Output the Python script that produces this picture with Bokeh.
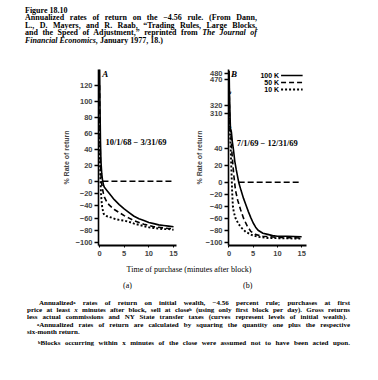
import numpy as np
from bokeh.plotting import figure
from bokeh.models import FixedTicker, Div, Label, Range1d
from bokeh.layouts import column, row
from bokeh.embed import file_html
from bokeh.resources import INLINE

# ---------------- data ----------------
minute_ticks = [0, 5, 10, 15]
wealth_levels = ["100 K", "50 K", "10 K"]

# (a) 10/1/68 - 3/31/69
a_minutes_100k = [0.02, 0.1, 0.2, 0.3, 0.45, 0.6, 0.8, 1.0, 1.5, 2, 3, 4, 5, 6, 7, 8, 9, 10, 11, 12, 13, 14, 15]
a_return_100k = [150, 95, 50, 25, 10, 2, -6, -10, -15, -20, -30, -38, -45, -51, -57, -61, -64, -67, -69, -71, -72, -73, -74]
a_minutes_50k = [0.02, 0.1, 0.2, 0.3, 0.4, 0.6, 0.8, 1.0, 1.5, 2, 3, 4, 5, 6, 7, 8, 9, 10, 11, 12, 13, 14, 15]
a_return_50k = [120, 60, 25, 8, -2, -12, -20, -26, -34, -39, -46, -51, -56, -60, -64, -67, -70, -72, -74, -75, -76, -77, -77]
a_minutes_10k = [0.02, 0.1, 0.2, 0.3, 0.5, 0.8, 1.0, 1.5, 2, 3, 4, 5, 6, 7, 8, 9, 10, 11, 12, 13, 14, 15]
a_return_10k = [80, 25, 0, -20, -40, -52, -55, -57, -58, -61, -63, -64, -66, -69, -71, -73, -75, -76, -77, -78, -78, -79]

# (b) 7/1/69 - 12/31/69
b_minutes_100k = [0.03, 0.1, 0.2, 0.3, 0.5, 0.7, 0.9, 1.2, 1.5, 2, 2.5, 3, 3.5, 4, 4.5, 5, 5.5, 6, 7, 8, 9, 10, 12, 15]
b_return_100k = [485, 400, 310, 200, 60, 48, 40, 25, 15, 0, -14, -27, -38, -49, -59, -68, -75, -80, -85, -87, -89, -90, -90, -91]
b_minutes_50k = [0.03, 0.1, 0.2, 0.35, 0.55, 0.75, 1.0, 1.35, 1.8, 2.4, 3, 3.7, 4.5, 5.4, 7, 10, 15]
b_return_50k = [470, 320, 150, 62, 40, 25, 8, -14, -30, -46, -60, -72, -82, -87, -90, -92, -93]
b_minutes_10k = [0.03, 0.1, 0.2, 0.35, 0.5, 0.65, 0.8, 1.0, 1.35, 2, 2.7, 3.5, 4.7, 6, 8, 15]
b_return_10k = [330, 150, 62, 40, 15, -15, -40, -50, -60, -70, -77, -83, -88, -91, -93, -94]

a_zero_minutes = [0.6, 15]
b_zero_minutes = [2.0, 15]
zero_return = [0, 0]

a_yticks = [120, 100, 80, 60, 40, 20, 0, -20, -40, -60, -80, -100]
b_yticks = [480, 470, 320, 310, 40, 20, 0, -20, -40, -60, -80, -100]

# ---------------- axis scales (uneven / broken axes as printed) ----------------
A_SCALE = ([-120, 0, 160], [-73.8, 0, 128])
B_SCALE = ([-120, 0, 64, 291, 335, 447, 520], [-72, 0, 53.5, 53.9, 88.5, 88.9, 132.2])


def to_axis(vals, scale):
    return [round(float(v), 3) for v in np.interp(vals, scale[0], scale[1])]


def fmt(v):
    return ("\u2212" + str(-v)) if v < 0 else str(v)


STYLES = [("solid", 1.6), ("5 3", 1.6), ("2 2", 1.9)]
TICK_FONT = "Liberation Sans"
SERIF = "Liberation Serif"


def make_panel(width, left, right, xr, yr, scale, yticks, series, zero_x,
               period, period_x, tag, tag_x, tag_y, label_standoff):
    p = figure(width=width, height=218, x_range=Range1d(*xr), y_range=Range1d(*yr),
               output_backend="svg", toolbar_location=None,
               min_border_left=left, min_border_right=right,
               min_border_top=25, min_border_bottom=17)
    p.grid.visible = False
    p.outline_line_color = None
    p.background_fill_color = "white"
    p.border_fill_color = "white"

    pos = to_axis(yticks, scale)
    p.yaxis.ticker = FixedTicker(ticks=pos, minor_ticks=[])
    p.yaxis.major_label_overrides = {ps: fmt(v) for ps, v in zip(pos, yticks)}
    p.yaxis.major_tick_out = 4
    p.yaxis.major_tick_in = 0
    p.yaxis.major_tick_line_width = 1.4
    p.yaxis.axis_line_width = 1.6
    p.yaxis.major_label_standoff = 2
    p.yaxis.major_label_text_font = TICK_FONT
    p.yaxis.major_label_text_font_style = "bold"
    p.yaxis.major_label_text_font_size = "7.5px"
    p.yaxis.axis_label = "% Rate of return"
    p.yaxis.axis_label_text_font = TICK_FONT
    p.yaxis.axis_label_text_font_style = "bold"
    p.yaxis.axis_label_text_font_size = "7px"
    p.yaxis.axis_label_standoff = label_standoff

    p.xaxis.ticker = FixedTicker(ticks=minute_ticks, minor_ticks=[])
    p.xaxis.major_tick_out = 2
    p.xaxis.major_tick_in = 0
    p.xaxis.axis_line_width = 2
    p.xaxis.major_label_standoff = 3
    p.xaxis.major_label_text_font = TICK_FONT
    p.xaxis.major_label_text_font_style = "bold"
    p.xaxis.major_label_text_font_size = "7.5px"

    for (xs, ys), (dash, lw) in zip(series, STYLES):
        p.line(xs, to_axis(ys, scale), line_color="black", line_width=lw, line_dash=dash)

    p.line(zero_x, to_axis(zero_return, scale), line_color="black", line_width=1.5, line_dash="6 3")

    p.add_layout(Label(x=period_x, y=39.7, text=period, text_font=SERIF, text_font_style="bold",
                       text_font_size="8.5px", text_baseline="middle", text_color="black"))
    p.add_layout(Label(x=tag_x, y=tag_y, text=tag, text_font=SERIF, text_font_style="bold italic",
                       text_font_size="9px", text_baseline="middle", text_color="black"))
    return p


pa = make_panel(184, 90, 16, (-0.2, 15.6), (-64.3, 111.7), A_SCALE, a_yticks,
                [(a_minutes_100k, a_return_100k), (a_minutes_50k, a_return_50k),
                 (a_minutes_10k, a_return_10k)],
                a_zero_minutes, "10/1/68 \u2212 3/31/69", 1.2, "A", 0.55, 107.7, 3)

pb = make_panel(178, 35, 64, (-0.1, 16.0), (-63.3, 112.7), B_SCALE, b_yticks,
                [(b_minutes_100k, b_return_100k), (b_minutes_50k, b_return_50k),
                 (b_minutes_10k, b_return_10k)],
                b_zero_minutes, "7/1/69 \u2212 12/31/69", 1.6, "B", 0.4, 108.7, 0)

# axis-break marks on panel (b)
for yb in [53.7, 88.7]:
    pb.add_layout(Label(x=-0.1, y=yb, text="\u2248", text_font="DejaVu Sans", text_font_style="bold",
                        text_font_size="9px", text_align="center", text_baseline="middle",
                        angle=1.0, text_color="black"))

# legend of panel (b): label left of the line sample
legend_y = [106.7, 99.7, 92.7]
for lab, yl, (dash, lw) in zip(wealth_levels, legend_y, STYLES):
    pb.add_layout(Label(x=10.35, y=yl, text=lab, text_font=TICK_FONT, text_font_style="bold",
                        text_font_size="7px", text_align="right", text_baseline="middle",
                        text_color="black"))
    pb.segment(x0=[10.75], y0=[yl], x1=[15.2], y1=[yl], line_color="black",
               line_width=lw, line_dash=dash)

# ---------------- texts ----------------
def line(top, left, html, width=None, justify=False, extra=""):
    st = f"position:absolute;top:{top}px;left:{left}px;white-space:nowrap;"
    if width is not None:
        st += f"width:{width}px;"
    if justify:
        st += "text-align:justify;text-align-last:justify;"
    return f'<div style="{st}{extra}">{html}</div>'


cap = (
    '<div style="position:relative;width:362px;height:36px;font-family:\'Liberation Serif\';'
    'font-weight:bold;font-size:8px;line-height:8px;color:#000;">'
    + line(-1.5, 17, "Figure 18.10")
    + line(6, 17, "Annualized rates of return on the \u22124.56 rule. (From Dann,", 232, True)
    + line(13.5, 17, "L., D. Mayers, and R. Raab, \u201cTrading Rules, Large Blocks,", 232, True)
    + line(21, 17, "and the Speed of Adjustment,\u201d reprinted from <i>The Journal of</i>", 232, True)
    + line(28.5, 17, "<i>Financial Economics,</i> January 1977, 18.)")
    + "</div>"
)

SUP = '<span style="position:relative;top:-1.5px;font-size:4.5px;line-height:0">'
foot = (
    '<div style="position:relative;width:362px;height:110px;font-family:\'Liberation Serif\';'
    'font-size:7px;font-weight:bold;line-height:6px;color:#000;">'
    + line(4, 0, "Time of purchase (minutes after block)", 362,
           extra="text-align:center;font-size:8px;line-height:8px;font-weight:normal;")
    + line(19.5, 115, "(a)", extra="font-size:8px;line-height:8px;font-weight:normal;")
    + line(19.5, 235, "(b)", extra="font-size:8px;line-height:8px;font-weight:normal;")
    + line(38, 31, f"Annualized{SUP}a</span> rates of return on initial wealth, \u22124.56 percent rule; purchases at first", 311, True)
    + line(45, 19, f"price at least <i>x</i> minutes after block, sell at close{SUP}b</span> (using only first block per day). Gross returns", 323, True)
    + line(51.7, 19, "less actual commissions and NY State transfer taxes (curves represent levels of initial wealth).", 320, True)
    + line(60, 29, f"{SUP}a</span>Annualized rates of return are calculated by squaring the quantity one plus the respective", 313, True)
    + line(66.7, 19, "six-month return.")
    + line(78.3, 30, f"{SUP}b</span>Blocks occurring within x minutes of the close were assumed not to have been acted upon.", 312, True)
    + "</div>"
)

caption_div = Div(text=cap, width=362, height=36, margin=(0, 0, 0, 0))
footer_div = Div(text=foot, width=362, height=110, margin=(0, 0, 0, 0))

layout = column(caption_div, row(pa, pb, spacing=0), footer_div, spacing=0,
                margin=(8, 0, 0, 8))

open("out.html", "w").write(file_html(layout, INLINE))
